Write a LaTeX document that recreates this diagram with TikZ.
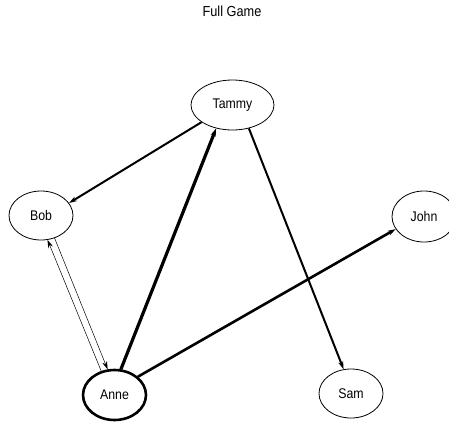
\documentclass[tikz,border=0pt]{standalone}
\usepackage{fontspec}
\setmainfont{Liberation Sans}[FakeStretch=0.88]
\usetikzlibrary{shapes.geometric,arrows.meta}
\tikzset{
  person/.style={ellipse,draw,line width=0.8pt,inner sep=0pt,font=\fontsize{14}{16}\selectfont},
  tip/.style={-{Stealth[length=8pt,width=5pt]}},
  thinedge/.style={tip,line width=0.5pt},
  midedge/.style={tip,line width=2pt},
  thickedge/.style={tip,line width=3.2pt},
}
\begin{document}
\begin{tikzpicture}[x=1pt,y=-1pt]
\useasboundingbox (0,0) rectangle (449,423);
\node[font=\fontsize{14.5}{16}\selectfont] (title) at (232,11) {Full Game};
\node[person,minimum width=83pt,minimum height=50pt] (tammy) at (232.5,105) {Tammy};
\node[person,minimum width=64pt,minimum height=49pt] (bob) at (41,215.5) {Bob};
\node[person,minimum width=64pt,minimum height=51pt] (john) at (424,216.5) {John};
\node[person,line width=2.6pt,minimum width=63pt,minimum height=50pt] (anne) at (114.5,395) {Anne};
\node[person,minimum width=64pt,minimum height=49pt] (sam) at (351,393.5) {Sam};

\draw[midedge] (tammy.209) -- (bob.24);
\draw[thickedge] (anne.76) -- (tammy.235);
\draw[midedge] (tammy.305) -- (sam.107);
\draw[tip,line width=2.6pt] (anne.38) -- (john.204);
\draw[thinedge] (anne.119) -- (bob.285);
\draw[thinedge] (bob.301) -- (anne.105);
\end{tikzpicture}
\end{document}
